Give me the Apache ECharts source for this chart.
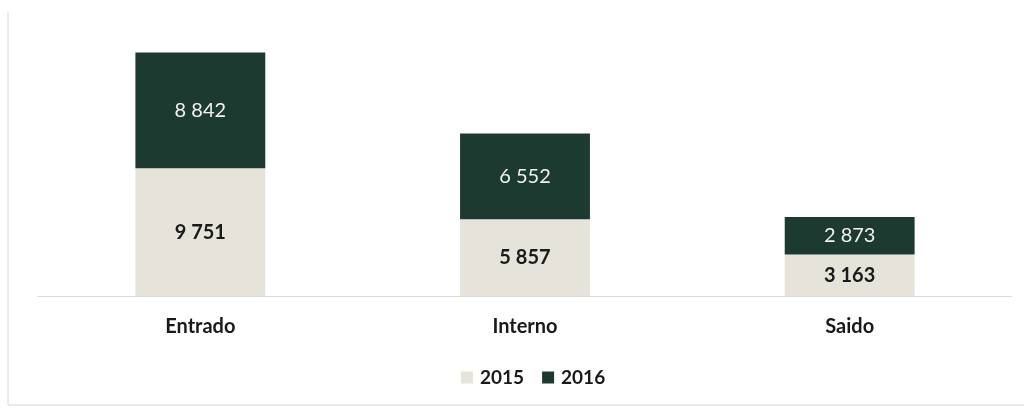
<!DOCTYPE html>
<html lang="pt">
<head>
  <meta charset="UTF-8">
  <title>Entrado / Interno / Saido</title>
  <style type="text/css">
    * {
      margin: 0;
      padding: 0;
    }
    html, body {
      width: 100%;
      height: 100%;
      overflow: hidden;
      background: #ffffff;
    }
    #main {
      width: 1024px;
      height: 409px;
    }
  </style>
  <script type="text/javascript" src="https://cdn.jsdelivr.net/npm/echarts@6/dist/echarts.min.js"></script>
</head>
<body>
<div id="main"></div>
<script type="text/javascript">
  var categories = ['Entrado', 'Interno', 'Saido'];
  var values2015 = [9751, 5857, 3163];
  var values2016 = [8842, 6552, 2873];
  var seriesNames = ['2015', '2016'];

  function fmt(v) {
    return String(v).replace(/\B(?=(\d{3})+(?!\d))/g, ' ');
  }

  var myChart = echarts.init(document.getElementById('main'));
  var option = {
    animation: false,
    textStyle: { fontFamily: 'Lato, "Open Sans", sans-serif' },
    graphic: [
      {
        type: 'polyline',
        shape: { points: [[8, 12], [8, 405], [1024, 405]] },
        style: { stroke: '#d6d6d6', lineWidth: 1, fill: null }
      }
    ],
    grid: { left: 38, right: 12, top: 34, bottom: 113 },
    legend: {
      bottom: 17,
      left: 456,
      itemWidth: 12,
      itemHeight: 12,
      itemGap: 18,
      icon: 'rect',
      textStyle: { fontSize: 19, color: '#1a1a1a', fontWeight: 'bold', padding: [0, 0, 0, 2] },
      data: seriesNames
    },
    xAxis: {
      type: 'category',
      data: categories,
      axisLine: { lineStyle: { color: '#d9d9d9', width: 1 } },
      axisTick: { show: false },
      axisLabel: { fontSize: 20, color: '#1a1a1a', margin: 21, fontWeight: 'bold' }
    },
    yAxis: {
      type: 'value',
      min: 0,
      max: 20000,
      show: false
    },
    series: [
      {
        name: seriesNames[0],
        type: 'bar',
        stack: 'total',
        barWidth: '40%',
        data: values2015,
        itemStyle: { color: '#e5e3da' },
        label: {
          show: true,
          position: 'inside',
          fontSize: 20,
          fontWeight: 'bold',
          color: '#1a1a1a',
          formatter: function (p) { return fmt(p.value); }
        }
      },
      {
        name: seriesNames[1],
        type: 'bar',
        stack: 'total',
        barWidth: '40%',
        data: values2016,
        itemStyle: { color: '#1d3a31' },
        label: {
          show: true,
          position: 'inside',
          fontSize: 20,
          color: '#f2f2f2',
          formatter: function (p) { return fmt(p.value); }
        }
      }
    ]
  };
  myChart.setOption(option);
</script>
</body>
</html>
